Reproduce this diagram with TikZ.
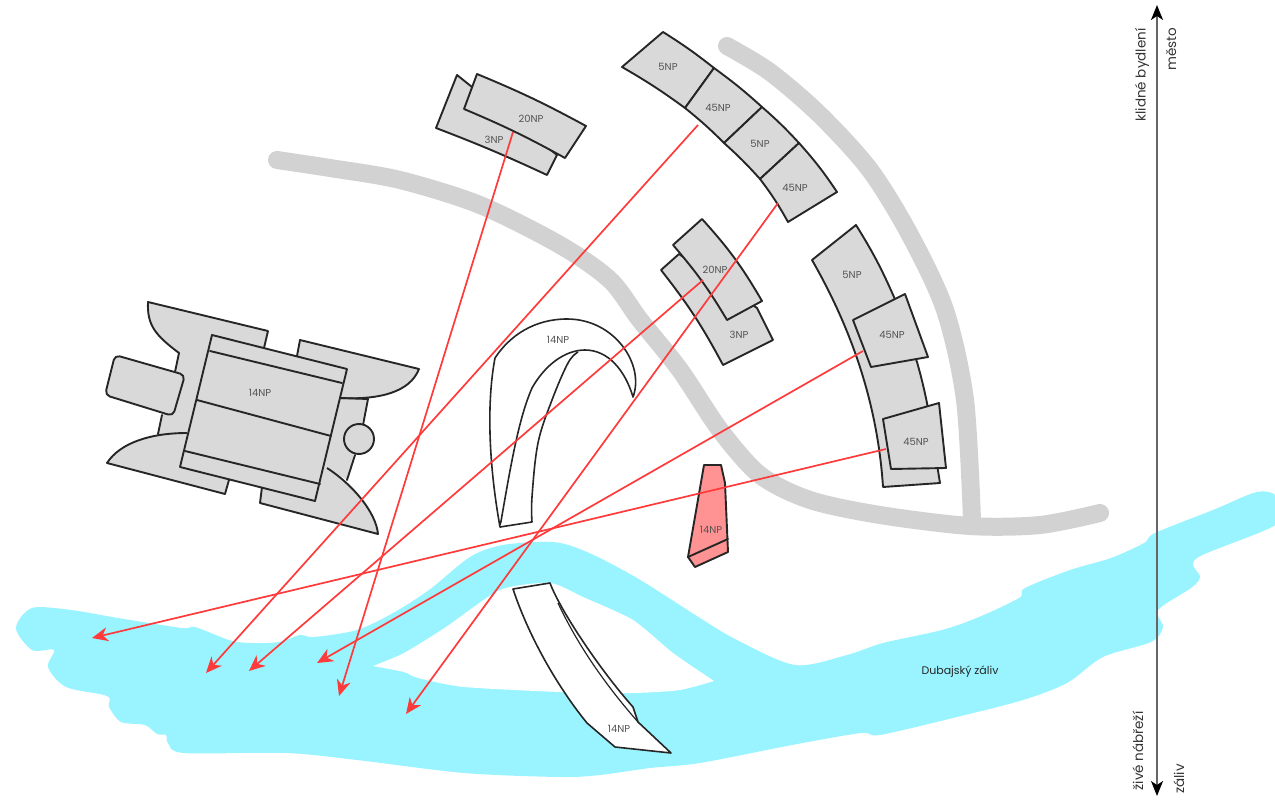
\documentclass[tikz,border=0pt]{standalone}
\usepackage{fontspec}
\setmainfont{Poppins}
\usetikzlibrary{arrows.meta}
\definecolor{water}{HTML}{99F4FF}
\definecolor{road}{HTML}{D2D2D2}
\definecolor{bldg}{HTML}{D9D9D9}
\definecolor{pinkb}{HTML}{FF9292}
\definecolor{sight}{HTML}{FF3A3A}
\definecolor{lbl}{HTML}{555555}
\tikzset{
  bldgbox/.style={draw=black!85,line width=1.9pt,fill=bldg,line join=round},
  bldgline/.style={draw=black!85,line width=1.9pt,line join=round,line cap=round},
  whitebox/.style={draw=black!85,line width=1.6pt,fill=white,line join=round},
  roadline/.style={draw=road,line width=18pt,line cap=round,line join=round},
  sightline/.style={draw=sight,line width=1.7pt,-{Stealth[length=16pt,width=14pt,inset=5pt]}},
  axisline/.style={draw=black!60,line width=2pt,{Stealth[length=15pt,width=12pt,inset=4pt,black]}-{Stealth[length=15pt,width=12pt,inset=4pt,black]}},
  np/.style={font=\fontsize{10}{11}\selectfont,text=lbl,inner sep=0pt},
  sidetext/.style={font=\fontsize{13.5}{15}\selectfont,text=black!80,inner sep=0pt,rotate=90}
}
\begin{document}
\begin{tikzpicture}[x=1pt,y=-1pt]
\useasboundingbox (0,0) rectangle (1275,800);
% water
\fill[water] plot[smooth cycle,tension=0.5] coordinates {
 (16,628) (32,608) (71,610) (118,618) (182,628) (195,627) (229,640) (250,643) (279,642) (300,635) (314,637) (357,630)
 (393,613) (429,590) (470,557) (503,545) (553,542) (587,552) (637,578) (700,618) (737,640) (795,665) (847,655) (883,643)
 (942,630) (979,617) (1019,598) (1025,588) (1070,570) (1111,558) (1144,543) (1155,533) (1213,510) (1257,492) (1277,497)
 (1277,524) (1197,558) (1200,577) (1191,588) (1158,610) (1163,627) (1151,642) (1103,657) (1067,683) (1023,700) (957,717)
 (880,735) (861,733) (792,745) (700,763) (650,768) (600,775) (560,777) (464,773) (357,760) (286,753) (184,753) (168,743)
 (166,735) (157,734) (145,725) (121,722) (109,707) (107,696) (66,687) (48,667) (54,650) (32,650)};
\fill[white] plot[smooth,tension=0.4] coordinates {(373,666) (404,653) (446,627) (500,590) (550,583) (583,597) (633,620) (673,653) (714,681)}
 -- plot[smooth,tension=0.4] coordinates {(714,681) (680,690) (633,693) (560,692) (464,687) (418,678) (404,672) (373,666)} -- cycle;
% roads
\draw[roadline] plot[smooth,tension=0.5] coordinates {(277,160) (330,168) (400,180) (480,205) (560,245) (610,280) (640,320) (680,370) (720,430) (760,475) (810,500) (880,515) (970,526) (1040,525) (1100,513)};
\draw[roadline] plot[smooth,tension=0.5] coordinates {(727,46) (770,72) (820,115) (870,170) (910,235) (945,310) (965,400) (972,520)};
% top block
\draw[bldgbox] (457,75) -- (436,128) to[bend left=2] (547,175) -- (557,155) -- cycle;
\draw[bldgbox] (477,74) to[bend left=3] (586,126) -- (565,158) to[bend right=3] (464,109) -- cycle;
% upper arc
\draw[bldgbox] (663,32) to[bend left=3] (714,68) -- (685,108) to[bend right=3] (622,67) -- cycle;
\draw[bldgbox] (714,68) to[bend left=3] (762,107) -- (724,143) to[bend right=3] (685,108) -- cycle;
\draw[bldgbox] (762,107) to[bend left=3] (799,143) -- (760,179) to[bend right=3] (724,143) -- cycle;
\draw[bldgbox] (799,143) to[bend left=4] (837,192) -- (788,222) to[bend right=4] (760,179) -- cycle;
% middle block
\draw[bldgbox] (679,254) -- (661,270) to[bend left=5] (723,365) -- (773,340) -- (757,308) -- cycle;
\draw[bldgbox] (702,219) to[bend left=6] (762,301) -- (727,320) to[bend right=5] (673,245) -- cycle;
% right arc
\draw[bldgbox] (812,260) -- (856,225) to[bend left=4] (894,297) -- (917,362) to[bend left=2] (927,403) -- (940,483) -- (883,487) .. controls (878,410) and (855,335) .. (812,260) -- cycle;
\draw[bldgbox] (853,320) -- (905,294) -- (928,357) -- (871,367) -- cycle;
\draw[bldgbox] (883,419) -- (939,403) -- (946,468) -- (891,469) -- cycle;
% left complex
\fill[bldg] (179,353) -- (212,345) -- (347,375) -- (368,399) -- (347,480) -- (327,468) -- (315,495) -- (180,460) -- (158,434) -- cycle;
\draw[bldgbox] (187,433) .. controls (150,433) and (120,443) .. (107,463) -- (225,494) -- (229,480);
\draw[bldgbox] (262,487) -- (260,503) -- (378,534) .. controls (376,512) and (352,484) .. (327,468);
\draw[bldgbox] (264,348) -- (268,331) -- (148,302) .. controls (147,325) and (155,335) .. (179,353) -- (175,372);
\draw[bldgbox] (297,356) -- (300,340) -- (419,369) .. controls (410,392) and (380,400) .. (340,398);
\draw[bldgline] (340,398) -- (368,399) -- (363,425);
\draw[bldgline] (162,415) -- (158,434);
\draw[bldgline] (355,455) -- (347,480);
\draw[bldgbox,rounded corners=5pt] (115,355) -- (185,375) -- (173,416) -- (105,395) -- cycle;
\draw[bldgbox] (212,335) -- (347,369) -- (315,501) -- (180,467) -- cycle;
\draw[bldgline] (210,351) -- (342,383);
\draw[bldgline] (197,400) -- (331,436);
\draw[bldgline] (185,451) -- (320,484);
\node[bldgbox,circle,minimum size=30pt,inner sep=0pt] (rotunda) at (359,439) {};
% white buildings
\filldraw[whitebox] (633,397) .. controls (645,365) and (615,319) .. (567,319) .. controls (535,319) and (510,335) .. (495,358)
 .. controls (487,400) and (488,460) .. (500,527)
 .. controls (510,470) and (518,420) .. (532,388) .. controls (545,365) and (565,350) .. (585,350) .. controls (608,350) and (625,370) .. (633,397) -- cycle;
\draw[whitebox] plot[smooth,tension=0.6] coordinates {(578,352) (568,363) (552,400) (538,443) (532,497) (532,522)} -- (500,527);
% lower white building
\draw[whitebox] (513,589) -- (550,583) .. controls (560,610) and (600,670) .. (633,707) -- (638,722) -- (671,753) -- (615,747) -- (587,723) .. controls (560,690) and (530,640) .. (513,589) -- cycle;
\draw[black!85,line width=1.2pt] (558,603) .. controls (580,650) and (610,690) .. (638,722);
% pink building
\draw[bldgbox,fill=pinkb] (704,465) -- (721,465) -- (725,483) -- (728,552) -- (695,567) -- (688,557) -- cycle;
\draw[bldgline] (688,557) -- (728,539);
% labels
\node[np] (a1) at (494,140) {3NP};
\node[np] (a2) at (531,119) {20NP};
\node[np] (b1) at (668,67) {5NP};
\node[np] (b2) at (718,108) {45NP};
\node[np] (b3) at (760,144) {5NP};
\node[np] (b4) at (795,188) {45NP};
\node[np] (c1) at (715,270) {20NP};
\node[np] (c2) at (739,335) {3NP};
\node[np] (d1) at (852,275) {5NP};
\node[np] (d2) at (892,335) {45NP};
\node[np] (d3) at (916,442) {45NP};
\node[np] (e1) at (260,393) {14NP};
\node[np] (e2) at (558,340) {14NP};
\node[np] (e3) at (711,530) {14NP};
\node[np] (e4) at (619,729) {14NP};
\node[font=\fontsize{11}{12}\selectfont,text=black!85,inner sep=0pt] (bay) at (960,672) {Dubajský záliv};
% sight lines
\coordinate (s1) at (513,132); \coordinate (t1) at (339,696);
\coordinate (s2) at (698,125); \coordinate (t2) at (206,673);
\coordinate (s3) at (778,203); \coordinate (t3) at (406,714);
\coordinate (s4) at (703,280); \coordinate (t4) at (249,671);
\coordinate (s5) at (863,351); \coordinate (t5) at (317,663);
\coordinate (s6) at (886,449); \coordinate (t6) at (92,638);
\foreach \i in {1,...,6} {\draw[sightline] (s\i) -- (t\i);}
% axis
\coordinate (axtop) at (1157,5);
\coordinate (axbot) at (1157,796);
\draw[axisline] (axtop) -- (axbot);
\node[sidetext] (n1) at (1142,75) {klidné bydlení};
\node[sidetext] (n2) at (1171,49) {město};
\node[sidetext] (n3) at (1138,751) {živé nábřeží};
\node[sidetext] (n4) at (1179,779) {záliv};
\end{tikzpicture}
\end{document}
